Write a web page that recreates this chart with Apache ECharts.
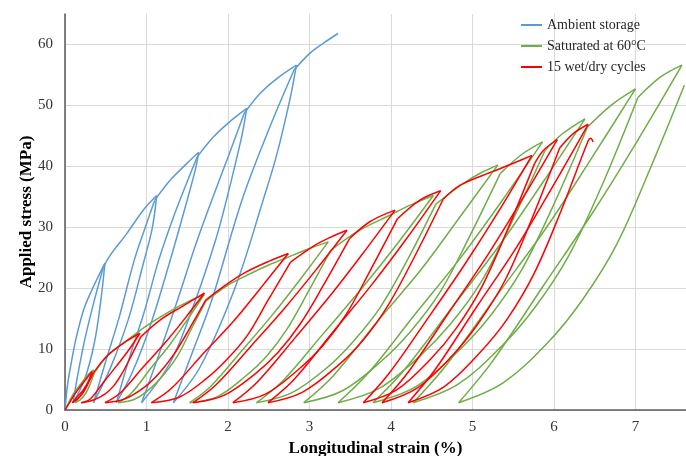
<!DOCTYPE html>
<html>
<head>
<meta charset="utf-8">
<title>Cyclic stress-strain</title>
<script src="https://cdn.jsdelivr.net/npm/echarts@6/dist/echarts.min.js"></script>
<style>
  html, body { margin: 0; padding: 0; background: #fff; }
  #chart { width: 686px; height: 456px; }
</style>
</head>
<body>
<div id="chart"></div>
<script>
// series names (legend order)
const seriesNames = ['Ambient storage', 'Saturated at 60°C', '15 wet/dry cycles']
const xTicks = [0, 1, 2, 3, 4, 5, 6, 7]
const yTicks = [0, 10, 20, 30, 40, 50, 60]

// --- Ambient storage: envelope pieces, unloading and reloading branches [strain %, stress MPa]
const ambientEnvelope = [
  [[0, 0], [0.03, 4], [0.08, 8], [0.14, 12], [0.23, 16.5], [0.33, 19.7], [0.49, 24.1]],
  [[0.47, 23.4], [0.55, 25.3], [0.76, 29], [0.96, 32.8], [1.125, 35.2]],
  [[1.1, 34.4], [1.29, 37.7], [1.49, 40.4], [1.64, 42.3]],
  [[1.62, 41.5], [1.82, 44.8], [2.02, 47.3], [2.23, 49.5]],
  [[2.2, 48.7], [2.39, 51.9], [2.6, 54.4], [2.84, 56.6]],
  [[2.81, 55.8], [3.0, 58.5], [3.17, 60.2], [3.35, 61.8]]
]
const ambientUnload = [
  [[0.49, 24.1], [0.44, 18], [0.36, 11], [0.24, 5], [0.1, 1.2]],
  [[1.125, 35.2], [1.07, 29.8], [0.96, 24], [0.78, 15], [0.56, 7], [0.35, 1.2]],
  [[1.64, 42.3], [1.6, 39.5], [1.49, 34], [1.3, 25], [1.05, 14], [0.82, 6], [0.63, 1.2]],
  [[2.23, 49.5], [2.17, 45], [1.98, 34.4], [1.85, 28], [1.6, 18], [1.3, 8], [0.94, 1.2]],
  [[2.84, 56.6], [2.76, 51], [2.6, 42], [2.43, 34.4], [2.09, 20.2], [1.66, 7.1], [1.33, 1.2]]
]
const ambientReload = [
  [[0.1, 1.2], [0.16, 6], [0.25, 12], [0.36, 18], [0.47, 23.4]],
  [[0.35, 1.2], [0.5, 8], [0.66, 15], [0.85, 24.6], [0.98, 29.8], [1.1, 34.4]],
  [[0.63, 1.2], [0.8, 9], [0.97, 16], [1.15, 24.6], [1.34, 32], [1.5, 37.5], [1.62, 41.5]],
  [[0.94, 1.2], [1.15, 9], [1.38, 18], [1.6, 27], [1.8, 34.4], [2.0, 41.5], [2.2, 48.7]],
  [[1.33, 1.2], [1.55, 9], [1.8, 18], [2.17, 34.4], [2.5, 46], [2.81, 55.8]]
]

// --- Saturated at 60°C
const saturatedEnvelope = [
  [[0, 0], [0.06, 1.6], [0.12, 3.0], [0.2, 4.4], [0.27, 5.6], [0.35, 6.6]],
  [[0.36, 6.1], [0.55, 9.3], [0.76, 11.4], [1.0, 13.8], [1.3, 16.3], [1.5, 17.7], [1.71, 19.0]],
  [[1.73, 17.9], [2.0, 20.5], [2.2, 21.9], [2.5, 23.8], [2.72, 25.0], [3.0, 26.5], [3.23, 27.6]],
  [[3.26, 26.2], [3.6, 29.4], [3.99, 32.0], [4.25, 33.7], [4.52, 35.2]],
  [[4.55, 33.8], [4.9, 37.3], [5.1, 38.9], [5.31, 40.2]],
  [[5.34, 38.8], [5.6, 41.9], [5.86, 44.0]],
  [[5.89, 42.6], [6.1, 45.3], [6.38, 47.8]],
  [[6.41, 46.4], [6.7, 50.0], [7.0, 52.7]],
  [[7.03, 51.3], [7.3, 54.6], [7.57, 56.6]]
]
const saturatedUnload = [
  [[0.35, 6.6], [0.31, 5.2], [0.26, 3.9], [0.2, 2.6], [0.15, 1.6], [0.12, 1.2]],
  [[1.71, 19.0], [1.5, 14.8], [1.29, 10.8], [1.05, 6.8], [0.81, 2.7], [0.65, 1.2]],
  [[3.23, 27.6], [2.89, 21.5], [2.55, 15.7], [2.18, 9.9], [1.79, 3.9], [1.53, 1.2]],
  [[4.52, 35.2], [4.09, 27.5], [3.65, 20.1], [3.18, 12.7], [2.68, 4.9], [2.35, 1.2]],
  [[5.31, 40.2], [4.83, 31.4], [4.36, 22.9], [3.83, 14.5], [3.29, 5.6], [2.93, 1.2]],
  [[5.86, 44.0], [5.36, 34.3], [4.86, 25.1], [4.3, 15.8], [3.73, 6.2], [3.35, 1.2]],
  [[6.38, 47.8], [5.86, 37.3], [5.34, 27.2], [4.77, 17.2], [4.17, 6.7], [3.78, 1.2]],
  [[7.0, 52.7], [6.45, 41.1], [5.91, 30.0], [5.31, 19.0], [4.68, 7.4], [4.27, 1.2]],
  [[7.57, 56.6], [7.02, 44.1], [6.47, 32.3], [5.87, 20.4], [5.24, 7.9], [4.83, 1.2]]
]
const saturatedReload = [
  [[0.12, 1.2], [0.18, 1.6], [0.23, 2.3], [0.27, 3.1], [0.3, 4.0], [0.33, 5.0], [0.36, 6.1]],
  [[0.65, 1.2], [0.86, 1.8], [1.07, 3.8], [1.23, 6.1], [1.39, 9.1], [1.55, 13.3], [1.73, 17.9]],
  [[1.53, 1.2], [1.87, 2.2], [2.21, 5.5], [2.47, 8.8], [2.72, 13.2], [2.98, 19.3], [3.26, 26.2]],
  [[2.35, 1.2], [2.78, 2.8], [3.22, 7.0], [3.54, 11.3], [3.87, 16.9], [4.2, 24.6], [4.55, 33.8]],
  [[2.93, 1.2], [3.41, 3.2], [3.88, 8.0], [4.24, 12.9], [4.6, 19.3], [4.95, 28.1], [5.34, 38.8]],
  [[3.35, 1.2], [3.85, 3.5], [4.35, 8.8], [4.73, 14.1], [5.11, 21.1], [5.48, 30.8], [5.89, 42.6]],
  [[3.78, 1.2], [4.3, 3.8], [4.82, 9.6], [5.21, 15.3], [5.6, 22.9], [5.99, 33.5], [6.41, 46.4]],
  [[4.27, 1.2], [4.82, 4.2], [5.36, 10.5], [5.77, 16.9], [6.18, 25.3], [6.59, 36.9], [7.03, 51.3]],
  [[4.83, 1.2], [5.38, 4.5], [5.94, 11.3], [6.35, 18.1], [6.77, 27.2], [7.18, 39.6], [7.6, 53.3]]
]

// --- 15 wet/dry cycles
const wetDryEnvelope = [
  [[0, 0], [0.06, 1.3], [0.12, 2.6], [0.19, 3.9], [0.26, 5.1], [0.33, 6.3]],
  [[0.34, 5.9], [0.45, 7.9], [0.55, 9.3], [0.74, 11.2], [0.92, 12.6]],
  [[0.93, 12.0], [1.17, 14.8], [1.45, 17.1], [1.71, 19.2]],
  [[1.73, 18.1], [2.0, 20.8], [2.23, 22.7], [2.5, 24.4], [2.74, 25.7]],
  [[2.77, 24.3], [3.05, 26.9], [3.25, 28.3], [3.46, 29.5]],
  [[3.49, 28.1], [3.74, 30.9], [4.05, 32.8]],
  [[4.08, 31.4], [4.36, 34.5], [4.61, 36.0]],
  [[4.64, 34.6], [4.85, 36.9], [5.26, 39.2], [5.5, 40.5], [5.73, 41.8]],
  [[5.76, 40.4], [5.87, 42.6], [6.04, 44.4]],
  [[6.07, 43.0], [6.24, 45.4], [6.42, 46.9]]
]
const wetDryUnload = [
  [[0.33, 6.3], [0.29, 4.8], [0.23, 3.4], [0.16, 2.3], [0.09, 1.2]],
  [[0.92, 12.6], [0.78, 9.8], [0.63, 7.2], [0.47, 4.5], [0.31, 1.8], [0.2, 1.2]],
  [[1.71, 19.2], [1.47, 15.0], [1.22, 10.9], [0.95, 6.9], [0.67, 2.7], [0.49, 1.2]],
  [[2.74, 25.7], [2.4, 20.0], [2.07, 14.6], [1.7, 9.3], [1.31, 3.6], [1.06, 1.2]],
  [[3.46, 29.5], [3.08, 23.0], [2.7, 16.8], [2.29, 10.6], [1.85, 4.1], [1.57, 1.2]],
  [[4.05, 32.8], [3.65, 25.6], [3.25, 18.7], [2.82, 11.8], [2.36, 4.6], [2.06, 1.2]],
  [[4.61, 36.0], [4.19, 28.1], [3.76, 20.5], [3.3, 13.0], [2.81, 5.0], [2.49, 1.2]],
  [[5.73, 41.8], [5.32, 32.6], [4.9, 23.8], [4.45, 15.0], [3.97, 5.9], [3.66, 1.2]],
  [[6.04, 44.4], [5.61, 34.6], [5.18, 25.3], [4.71, 16.0], [4.21, 6.2], [3.89, 1.2]],
  [[6.42, 46.9], [5.98, 36.6], [5.54, 26.7], [5.05, 16.9], [4.54, 6.6], [4.21, 1.2]]
]
const wetDryReload = [
  [[0.09, 1.2], [0.17, 2.0], [0.24, 3.2], [0.3, 4.8], [0.34, 5.9]],
  [[0.2, 1.2], [0.34, 1.6], [0.49, 2.6], [0.6, 4.0], [0.7, 6.0], [0.81, 8.8], [0.93, 12.0]],
  [[0.49, 1.2], [0.73, 1.8], [0.98, 3.8], [1.16, 6.1], [1.34, 9.2], [1.53, 13.4], [1.73, 18.1]],
  [[1.06, 1.2], [1.4, 2.1], [1.73, 5.1], [1.98, 8.2], [2.24, 12.3], [2.49, 18.0], [2.77, 24.3]],
  [[1.57, 1.2], [1.95, 2.4], [2.33, 5.9], [2.61, 9.4], [2.89, 14.2], [3.18, 20.7], [3.49, 28.1]],
  [[2.06, 1.2], [2.46, 2.6], [2.86, 6.6], [3.16, 10.5], [3.45, 15.7], [3.75, 23.0], [4.08, 31.4]],
  [[2.49, 1.2], [2.91, 2.9], [3.34, 7.2], [3.66, 11.5], [3.97, 17.3], [4.29, 25.2], [4.64, 34.6]],
  [[3.66, 1.2], [4.07, 3.3], [4.49, 8.4], [4.8, 13.4], [5.11, 20.1], [5.42, 29.3], [5.76, 40.4]],
  [[3.89, 1.2], [4.32, 3.6], [4.75, 8.9], [5.07, 14.2], [5.4, 21.3], [5.72, 31.1], [6.07, 43.0]],
  [[4.21, 1.2], [4.65, 3.8], [5.09, 9.4], [5.43, 15.0], [5.76, 22.5], [6.09, 32.8], [6.42, 44.2], [6.45, 44.6], [6.48, 44.0]]
]

const colors = ['#5B9BD5', '#70AD47', '#FF0000']
const serif = '"Liberation Serif", "Times New Roman", serif'

const chart = echarts.init(document.getElementById('chart'))

function branchSeries(name, color, groups) {
  const out = []
  groups.forEach(branches => {
    branches.forEach(points => {
      out.push({
        type: 'line',
        name: name,
        data: points,
        smooth: 0.35,
        showSymbol: false,
        symbol: 'none',
        lineStyle: { color: color, width: 1.5 },
        itemStyle: { color: color },
        emphasis: { disabled: true }
      })
    })
  })
  return out
}

const series = [
  ...branchSeries(seriesNames[0], colors[0], [ambientEnvelope, ambientUnload, ambientReload]),
  ...branchSeries(seriesNames[1], colors[1], [saturatedEnvelope, saturatedUnload, saturatedReload]),
  ...branchSeries(seriesNames[2], colors[2], [wetDryEnvelope, wetDryUnload, wetDryReload])
]

function tickFormatter(ticks) {
  return v => (ticks.indexOf(Math.round(v * 1000) / 1000) >= 0 ? String(v) : '')
}

const option = {
  animation: false,
  backgroundColor: '#fff',
  grid: { left: 65, right: 0, top: 14, bottom: 46, outerBoundsMode: 'none' },
  legend: {
    orient: 'vertical',
    left: 516,
    top: 13,
    icon: 'rect',
    itemWidth: 21,
    itemHeight: 2,
    itemGap: 7,
    data: seriesNames,
    textStyle: { fontFamily: serif, fontSize: 14, color: '#262626', lineHeight: 14 }
  },
  xAxis: {
    type: 'value',
    min: 0,
    max: 7.62,
    interval: 1,
    name: 'Longitudinal strain (%)',
    nameLocation: 'middle',
    nameGap: 30,
    nameMoveOverlap: false,
    nameTextStyle: { fontFamily: serif, fontSize: 17, fontWeight: 'bold', color: '#000' },
    axisLine: { show: true, lineStyle: { color: '#595959', width: 1.5 } },
    axisTick: { show: false },
    axisLabel: { formatter: tickFormatter(xTicks), fontFamily: serif, fontSize: 15, color: '#333', margin: 10 },
    splitLine: { show: true, showMaxLine: false, lineStyle: { color: '#d9d9d9', width: 1 } }
  },
  yAxis: {
    type: 'value',
    min: 0,
    max: 65,
    interval: 10,
    name: 'Applied stress (MPa)',
    nameLocation: 'middle',
    nameGap: 30,
    nameMoveOverlap: false,
    nameTextStyle: { fontFamily: serif, fontSize: 17, fontWeight: 'bold', color: '#000' },
    axisLine: { show: true, lineStyle: { color: '#595959', width: 1.5 } },
    axisTick: { show: false },
    axisLabel: { formatter: tickFormatter(yTicks), fontFamily: serif, fontSize: 15, color: '#333', margin: 12 },
    splitLine: { show: true, showMaxLine: false, lineStyle: { color: '#d9d9d9', width: 1 } }
  },
  series: series
}

chart.setOption(option)
</script>
</body>
</html>
